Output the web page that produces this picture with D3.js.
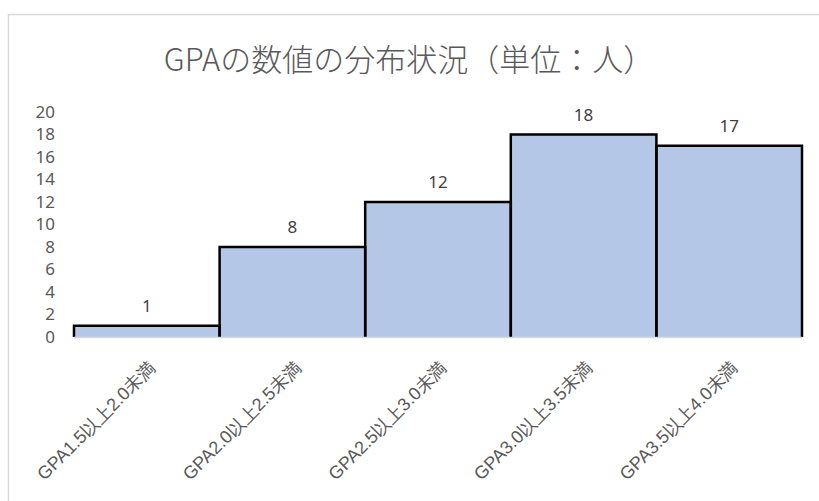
<!DOCTYPE html>
<html>
<head>
<meta charset="utf-8">
<script src="https://cdn.jsdelivr.net/npm/d3@7"></script>
<style>
  body { margin: 0; background: #fff; }
  svg { display: block; font-family: "Noto Sans CJK JP", "Noto Sans", sans-serif; }
</style>
</head>
<body>
<svg id="chart" width="819" height="501"></svg>
<script>
// histogram data
var categories = ['GPA1.5以上2.0未満', 'GPA2.0以上2.5未満', 'GPA2.5以上3.0未満', 'GPA3.0以上3.5未満', 'GPA3.5以上4.0未満'];
var counts = [1, 8, 12, 18, 17];
var yTicks = [0, 2, 4, 6, 8, 10, 12, 14, 16, 18, 20];
var title = 'GPAの数値の分布状況（単位：人）';

var svg = d3.select('#chart');

// chart frame (runs off the right / bottom edge)
svg.append('rect')
  .attr('x', 8.5).attr('y', 14.5)
  .attr('width', 830).attr('height', 520)
  .attr('fill', 'none')
  .attr('stroke', '#d9d9d9')
  .attr('stroke-width', 1.5);

var plotLeft = 74, plotRight = 802, plotTop = 112, plotBottom = 337;

var x = d3.scaleBand()
  .domain(categories)
  .range([plotLeft, plotRight])
  .padding(0);

var y = d3.scaleLinear()
  .domain([0, 20])
  .range([plotBottom, plotTop]);

// title
svg.append('text')
  .attr('x', 409)
  .attr('y', 71)
  .attr('text-anchor', 'middle')
  .style('font-size', '31px')
  .style('font-weight', 300)
  .style('fill', '#595959')
  .text(title);

// y axis, labels only
var yAxis = svg.append('g')
  .attr('transform', 'translate(' + (plotLeft - 19) + ',0)')
  .call(d3.axisLeft(y).tickValues(yTicks).tickSize(0).tickPadding(0));
yAxis.select('.domain').remove();
yAxis.selectAll('text')
  .style('font-size', '17px')
  .style('fill', '#595959')
  .style('font-family', '"Noto Sans", sans-serif');

// bars: fill first, then outline of top and sides
var bars = svg.append('g');
bars.selectAll('rect')
  .data(counts)
  .enter().append('rect')
  .attr('x', function(d, i) { return x(categories[i]); })
  .attr('y', function(d) { return y(d); })
  .attr('width', x.bandwidth())
  .attr('height', function(d) { return y(0) - y(d); })
  .attr('fill', '#b4c7e7');

bars.selectAll('path')
  .data(counts)
  .enter().append('path')
  .attr('d', function(d, i) {
    var x0 = x(categories[i]), x1 = x0 + x.bandwidth();
    return 'M' + x0 + ',' + y(0) + 'V' + y(d) + 'H' + x1 + 'V' + y(0);
  })
  .attr('fill', 'none')
  .attr('stroke', '#000')
  .attr('stroke-width', 2.5)
  .attr('stroke-linejoin', 'miter');

// x axis baseline
svg.append('line')
  .attr('x1', plotLeft).attr('x2', plotRight)
  .attr('y1', plotBottom + 0.5).attr('y2', plotBottom + 0.5)
  .attr('stroke', '#d9d9d9')
  .attr('stroke-width', 1.5);

// data labels
svg.append('g').selectAll('text')
  .data(counts)
  .enter().append('text')
  .attr('x', function(d, i) { return x(categories[i]) + x.bandwidth() / 2; })
  .attr('y', function(d) { return y(d) - 14; })
  .attr('text-anchor', 'middle')
  .style('font-size', '17px')
  .style('font-family', '"Noto Sans", sans-serif')
  .style('fill', '#404040')
  .text(function(d) { return d; });

// category labels, rotated
var xAxis = svg.append('g')
  .attr('transform', 'translate(0,' + plotBottom + ')')
  .call(d3.axisBottom(x).tickSize(0).tickPadding(0));
xAxis.select('.domain').remove();
xAxis.selectAll('text')
  .attr('text-anchor', 'end')
  .attr('dy', null)
  .attr('transform', 'translate(10,32) rotate(-45)')
  .style('font-size', '18px')
  .style('font-weight', 300)
  .style('fill', '#595959');
</script>
</body>
</html>
